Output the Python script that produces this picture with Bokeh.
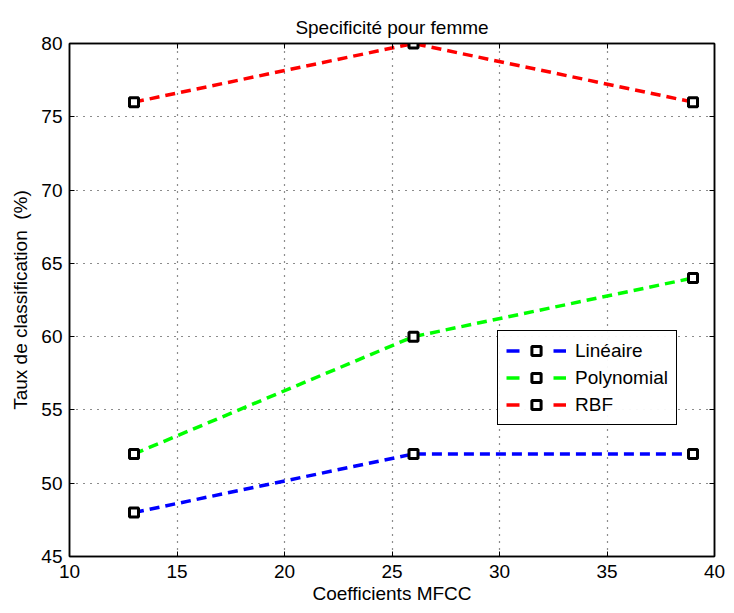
from bokeh.plotting import figure
from bokeh.models import LinearAxis, Range1d, Legend, LegendItem, FixedTicker
from bokeh.embed import file_html
from bokeh.resources import INLINE

coeffs = [13, 26, 39]
lineaire = [48, 52, 52]
polynomial = [52, 60, 64]
rbf = [76, 80, 76]
series_names = ["Linéaire", "Polynomial", "RBF"]
series_colors = ["#0000ff", "#00ff00", "#ff0000"]
x_ticks = [10, 15, 20, 25, 30, 35, 40]
y_ticks = [45, 50, 55, 60, 65, 70, 75, 80]

FONT = "Liberation Sans"

p = figure(width=734, height=613, output_backend="svg", toolbar_location=None,
           x_range=Range1d(10, 40), y_range=Range1d(45, 80),
           min_border_left=69, min_border_right=20, min_border_top=43, min_border_bottom=57,
           title="Specificité pour femme")
p.title.align = "center"
p.title.text_font = FONT
p.title.text_font_size = "19px"
p.title.text_font_style = "normal"
p.title.text_color = "black"
p.title.standoff = 12
p.outline_line_color = "black"
p.outline_line_width = 1.5

for ax in (p.xaxis[0], p.yaxis[0]):
    ax.major_tick_in = 5
    ax.major_tick_out = 0
    ax.minor_tick_in = 0
    ax.minor_tick_out = 0
    ax.axis_line_color = "black"
    ax.axis_line_width = 1.5
    ax.major_tick_line_color = "black"
    ax.major_label_text_font = FONT
    ax.major_label_text_font_size = "19px"
    ax.major_label_text_color = "black"
    ax.axis_label_text_font = FONT
    ax.axis_label_text_font_size = "19px"
    ax.axis_label_text_font_style = "normal"
    ax.axis_label_text_color = "black"
p.xaxis[0].ticker = FixedTicker(ticks=x_ticks)
p.yaxis[0].ticker = FixedTicker(ticks=y_ticks)
p.xaxis[0].axis_label = "Coefficients MFCC"
p.yaxis[0].axis_label = "Taux de classification \u00a0(%)"
p.xaxis[0].axis_label_standoff = 2
p.yaxis[0].axis_label_standoff = 7
p.xaxis[0].major_label_standoff = 8
p.yaxis[0].major_label_standoff = 7

for loc, ticks in (("above", x_ticks), ("right", y_ticks)):
    ax = LinearAxis(ticker=FixedTicker(ticks=ticks),
                    major_label_overrides={t: "" for t in ticks},
                    major_tick_in=5, major_tick_out=0, minor_tick_in=0, minor_tick_out=0,
                    axis_line_color="black", axis_line_width=1.5, major_label_standoff=0)
    p.add_layout(ax, loc)

p.xgrid.ticker = FixedTicker(ticks=x_ticks)
p.ygrid.ticker = FixedTicker(ticks=y_ticks)
for g in (p.xgrid[0], p.ygrid[0]):
    g.grid_line_color = "black"
    g.grid_line_dash = "1 6"
    g.grid_line_width = 1.2
    g.grid_line_alpha = 0.9

# legend-only proxy renderers, placed outside the visible ranges (clipped away)
proxy_x = [0, 1]
proxy_y = [0, 0]

items = []
for name, vals, col in zip(series_names, [lineaire, polynomial, rbf], series_colors):
    p.line(coeffs, vals, line_color=col, line_width=3.5, line_dash="10 6")
    p.scatter(coeffs, vals, marker="square", size=9, line_color="black",
              line_width=3, fill_color="white")
    leg_line = p.line(proxy_x, proxy_y, line_color=col, line_width=3.5, line_dash="13 34")
    leg_mark = p.scatter(proxy_x, proxy_y, marker="square", size=9, line_color="black",
                         line_width=3, fill_color="white")
    items.append(LegendItem(label=name, renderers=[leg_line, leg_mark]))

legend = Legend(items=items, location=(428, 131))
legend.label_text_font = FONT
legend.label_text_font_size = "19px"
legend.label_text_color = "black"
legend.border_line_color = "black"
legend.border_line_width = 1.5
legend.border_line_alpha = 1.0
legend.glyph_width = 60
legend.glyph_height = 23
legend.label_height = 23
legend.label_standoff = 9
legend.spacing = 4
legend.padding = 8
legend.margin = 0
p.add_layout(legend, "center")

open("out.html", "w").write(file_html(p, INLINE))
